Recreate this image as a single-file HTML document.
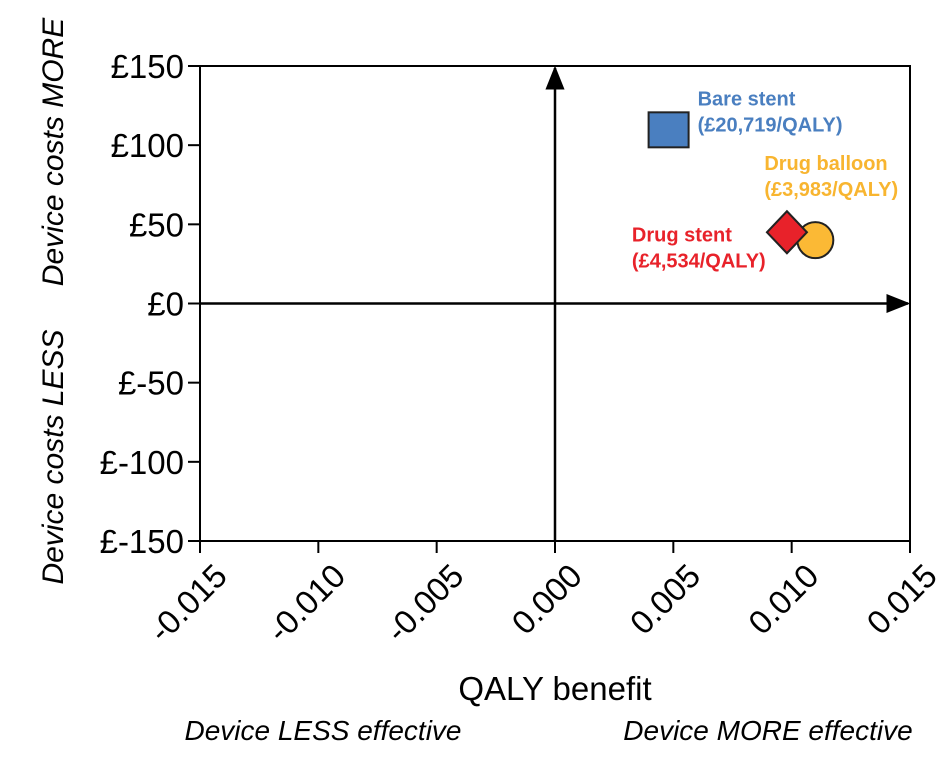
<!DOCTYPE html>
<html><head><meta charset="utf-8"><style>
body{margin:0;background:#fff;width:940px;height:756px;overflow:hidden}
svg text{font-family:"Liberation Sans",sans-serif}
</style></head><body>
<svg id="chart" width="940" height="756" viewBox="0 0 940 756">
<defs><marker id="ah" viewBox="0 0 10 10" refX="9" refY="5" markerWidth="24" markerHeight="24" markerUnits="userSpaceOnUse" orient="auto"><path d="M0,1 L10,5 L0,9 z" fill="#000"/></marker></defs>
<g id="axes"></g>
<g id="marks"></g>
<text x="555" y="700" font-size="33" text-anchor="middle">QALY benefit</text>
<text x="323" y="740" font-size="28" font-style="italic" text-anchor="middle">Device LESS effective</text>
<text x="768" y="740" font-size="28" font-style="italic" text-anchor="middle">Device MORE effective</text>
<text transform="translate(63,152) rotate(-90)" font-size="30" font-style="italic" text-anchor="middle">Device costs MORE</text>
<text transform="translate(63,457) rotate(-90)" font-size="30" font-style="italic" text-anchor="middle">Device costs LESS</text>
</svg>
<script>
const xTicks=[-0.015,-0.010,-0.005,0.000,0.005,0.010,0.015];
const xTickLabels=["-0.015","-0.010","-0.005","0.000","0.005","0.010","0.015"];
const yTicks=[150,100,50,0,-50,-100,-150];
const yTickLabels=["£150","£100","£50","£0","£-50","£-100","£-150"];
const seriesNames=["Bare stent","Drug stent","Drug balloon"];
const seriesQaly=[0.0048,0.0098,0.0110];
const seriesCost=[110,45,40];
const seriesIcer=["(£20,719/QALY)","(£4,534/QALY)","(£3,983/QALY)"];
const L=200,R=910,T=66,B=541;
const sx=v=>L+(v+0.015)/0.03*(R-L);
const sy=v=>T+(150-v)/300*(B-T);
const NS="http://www.w3.org/2000/svg";
function mk(tag,attrs,parent,txt){const e=document.createElementNS(NS,tag);for(const k in attrs)e.setAttribute(k,attrs[k]);if(txt!=null)e.textContent=txt;parent.appendChild(e);return e;}
const ax=document.getElementById('axes'),mg=document.getElementById('marks');
let e=mk('rect',{x:L,y:T,width:R-L,height:B-T,fill:'none',stroke:'#000','stroke-width':2},ax);


xTicks.forEach((t,i)=>{const x=sx(t);
 let l=mk('line',{x1:x,x2:x,y1:B,y2:B+12,stroke:'#000','stroke-width':2},ax);
 
 
 let tx=mk('text',{transform:`translate(${x+12},${B+20}) rotate(-45)`,'font-size':33,'text-anchor':'end','dominant-baseline':'hanging'},ax,xTickLabels[i]);
 
 
});
yTicks.forEach((t,i)=>{const y=sy(t);
 let l=mk('line',{x1:L-12,x2:L,y1:y,y2:y,stroke:'#000','stroke-width':2},ax);
 
 
 let tx=mk('text',{x:L-16,y:y+12,'font-size':33,'text-anchor':'end'},ax,yTickLabels[i]);
 
 
});
let h=mk('line',{x1:L,x2:R-2,y1:sy(0),y2:sy(0),stroke:'#000','stroke-width':2.5,'marker-end':'url(#ah)'},ax);


let v=mk('line',{x1:sx(0),x2:sx(0),y1:B,y2:T+2,stroke:'#000','stroke-width':2.5,'marker-end':'url(#ah)'},ax);


let cx=sx(seriesQaly[2]),cy=sy(seriesCost[2]);
let c=mk('circle',{cx:cx,cy:cy,r:18,fill:'#fbb935',stroke:'#222','stroke-width':2},mg);


let dx=sx(seriesQaly[1]),dy=sy(seriesCost[1]);
let d=mk('polygon',{points:`${dx},${dy-21} ${dx+20},${dy} ${dx},${dy+21} ${dx-20},${dy}`,fill:'#e8222a',stroke:'#222','stroke-width':2},mg);


let qx=sx(seriesQaly[0]),qy=sy(seriesCost[0]);
let s=mk('rect',{x:qx-20,y:qy-17,width:40,height:35,fill:'#4a7fc0',stroke:'#222','stroke-width':2},mg);


const lab=(x,y,lines,col,anchor,name)=>{lines.forEach((t,i)=>{let el=mk('text',{x:x,y:y+i*26,fill:col,'font-size':20,'font-weight':'bold','text-anchor':anchor},mg,t);
 
 });};
lab(qx+29,qy-24,[seriesNames[0],seriesIcer[0]],'#4a7fc0','start','bare-stent-label');
lab(cx-51,cy-70,[seriesNames[2],seriesIcer[2]],'#f8b530','start','drug-balloon-label');
lab(dx-155,dy+9,[seriesNames[1],seriesIcer[1]],'#e8222a','start','drug-stent-label');
</script>
</body></html>
